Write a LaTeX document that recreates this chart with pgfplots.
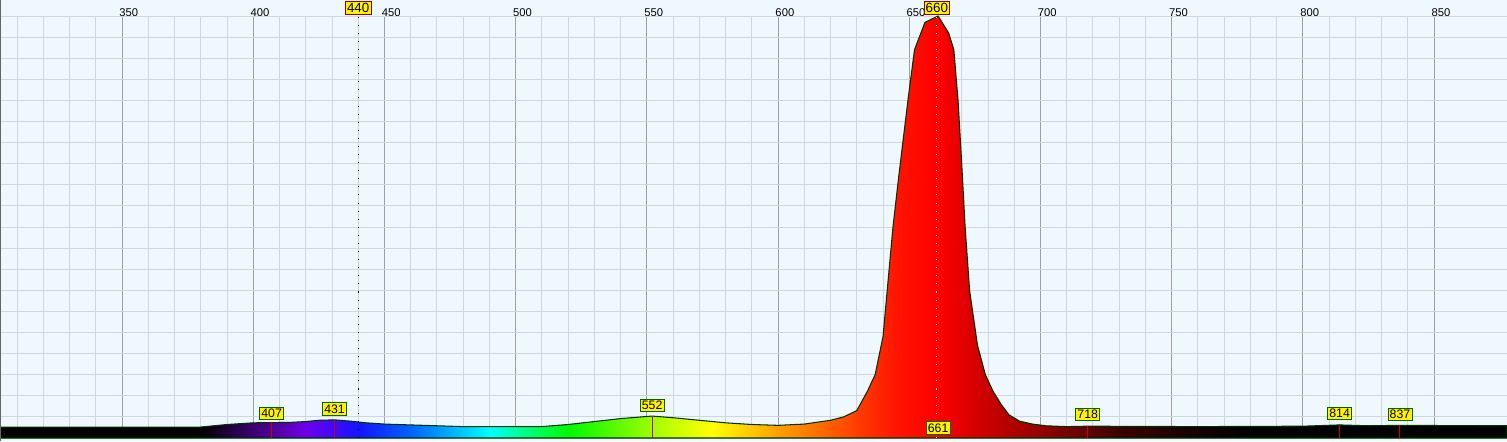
\documentclass[border=0pt]{standalone}
\usepackage{pgfplots}
\pgfplotsset{compat=1.18}
\usepackage{fontspec}
\setmainfont{Liberation Sans}
\definecolor{bg}{RGB}{240,248,255}
\definecolor{mingrid}{RGB}{208,214,222}
\definecolor{majgrid}{RGB}{160,160,160}
\definecolor{lgreen}{RGB}{154,205,50}
\definecolor{c400}{RGB}{60,0,110}
\definecolor{c420}{RGB}{110,0,235}
\definecolor{c440}{RGB}{20,20,255}
\definecolor{c460}{RGB}{0,100,255}
\definecolor{c480}{RGB}{0,200,255}
\definecolor{c490}{RGB}{0,255,255}
\definecolor{c510}{RGB}{0,255,80}
\definecolor{c520}{RGB}{0,250,0}
\definecolor{c540}{RGB}{100,250,0}
\definecolor{c560}{RGB}{200,255,0}
\definecolor{c575}{RGB}{255,255,0}
\definecolor{c600}{RGB}{255,160,0}
\definecolor{c630}{RGB}{255,60,0}
\definecolor{c645}{RGB}{255,20,0}
\definecolor{c660}{RGB}{255,0,0}
\definecolor{c680}{RGB}{200,0,0}
\definecolor{c700}{RGB}{150,0,0}
\definecolor{c730}{RGB}{60,0,0}
\definecolor{c760}{RGB}{20,0,0}
\pgfdeclarehorizontalshading{spec}{100bp}{color(0bp)=(black); color(31.65bp)=(black); color(33.4bp)=(c400); color(35.15bp)=(c420); color(36.9bp)=(c440); color(38.65bp)=(c460); color(40.35bp)=(c480); color(41.25bp)=(c490); color(42.95bp)=(c510); color(43.85bp)=(c520); color(45.6bp)=(c540); color(47.35bp)=(c560); color(48.65bp)=(c575); color(50.8bp)=(c600); color(53.45bp)=(c630); color(54.75bp)=(c645); color(56.05bp)=(c660); color(57.8bp)=(c680); color(59.5bp)=(c700); color(62.15bp)=(c730); color(64.75bp)=(c760); color(66.5bp)=(black); color(100bp)=(black)}
\pgfplotstableread{
wl val
303.5 2.6
380 2.6
390 3.2
400 3.6
414 3.7
420 3.9
425 4.2
431 4.3
437 4.0
443 3.6
450 3.3
465 3.0
480 2.7
510 2.7
520 3.2
530 3.9
540 4.6
552 5.2
560 4.8
570 4.2
580 3.6
590 3.2
600 3.0
610 3.3
620 4.2
625 5.0
630 6.5
634 11
637 15
640 24
643.8 50
646 62
649.5 80
652 92
656 98.5
661 100
665 96
667 92
668.6 80
670 65
671.3 50
673 35
676 22
679 15
682 11
685 8
688 5.5
692 4.0
697 3.3
702 2.9
710 2.7
718 2.8
760 2.7
800 2.8
814 3.1
825 2.9
837 3.0
870 2.9
877.8 2.9
}\spec
\tikzset{lab/.style={fill=yellow,draw=green!40!black,inner sep=0.5pt,line width=0.2pt,font=\fontsize{3.5pt}{4pt}\selectfont},
 rt/.style={red!80!black,line width=0.3pt}}
\begin{document}
\begin{tikzpicture}
\fill[bg] (0,0) rectangle (150.7mm,44.1mm);
\begin{axis}[at={(0,0.3mm)},anchor=south west,scale only axis,width=150.7mm,height=42.2mm,
 xmin=303.5,xmax=877.8,ymin=0,ymax=100,clip=false,
 axis line style={draw=none},axis background/.style={fill=bg},
 xtick={300,350,...,850},minor x tick num=4,xticklabel pos=upper,
 xticklabel style={anchor=south west,inner sep=0.5pt,xshift=-0.5mm,yshift=-0.3mm,font=\fontsize{3.2pt}{4pt}\selectfont},
 ytick={0,5,...,100},yticklabels={},
 major tick length=0pt,minor tick length=0pt,
 xmajorgrids,xminorgrids,ymajorgrids,
 major grid style={majgrid,line width=0.25pt},minor grid style={mingrid,line width=0.25pt},
 y grid style={mingrid,line width=0.25pt},
 extra y ticks={50,100},extra y tick labels={},extra y tick style={grid style={lgreen,line width=0.3pt}},
 /pgf/number format/assume math mode=true]
\addplot[draw=black!80!green,line width=0.3pt,shading=spec] table[x=wl,y=val]{\spec} \closedcycle;
\draw[black,dotted,line width=0.3pt] (axis cs:440,0) -- (axis cs:440,100);
\draw[white,dotted,line width=0.3pt] (axis cs:660.5,0) -- (axis cs:660.5,100);
\draw[rt] (axis cs:407,0) -- (axis cs:407,3.7);
\draw[rt] (axis cs:431,0) -- (axis cs:431,4.3);
\draw[rt] (axis cs:552,0) -- (axis cs:552,5.2);
\draw[rt] (axis cs:718,0) -- (axis cs:718,2.8);
\draw[rt] (axis cs:814,0) -- (axis cs:814,3.1);
\draw[rt] (axis cs:837,0) -- (axis cs:837,3.0);
\node[lab] at (axis cs:407,5.9) {407};
\node[lab] at (axis cs:431,6.9) {431};
\node[lab] at (axis cs:552,7.7) {552};
\node[lab] at (axis cs:718,5.6) {718};
\node[lab] at (axis cs:814,5.8) {814};
\node[lab] at (axis cs:837,5.6) {837};
\node[lab] at (axis cs:661,2.4) {661};
\node[lab,draw=red!60!black,font=\fontsize{3.8pt}{4pt}\selectfont] at (axis cs:440,101.9) {440};
\node[lab,draw=red!60!black,font=\fontsize{3.8pt}{4pt}\selectfont] at (axis cs:660.5,101.9) {660};
\end{axis}
\draw[black!60,line width=0.5pt] (0,0) -- (0,44.1mm);
\pgfresetboundingbox
\useasboundingbox (0,0) rectangle (150.7mm,44.1mm);
\end{tikzpicture}
\end{document}
